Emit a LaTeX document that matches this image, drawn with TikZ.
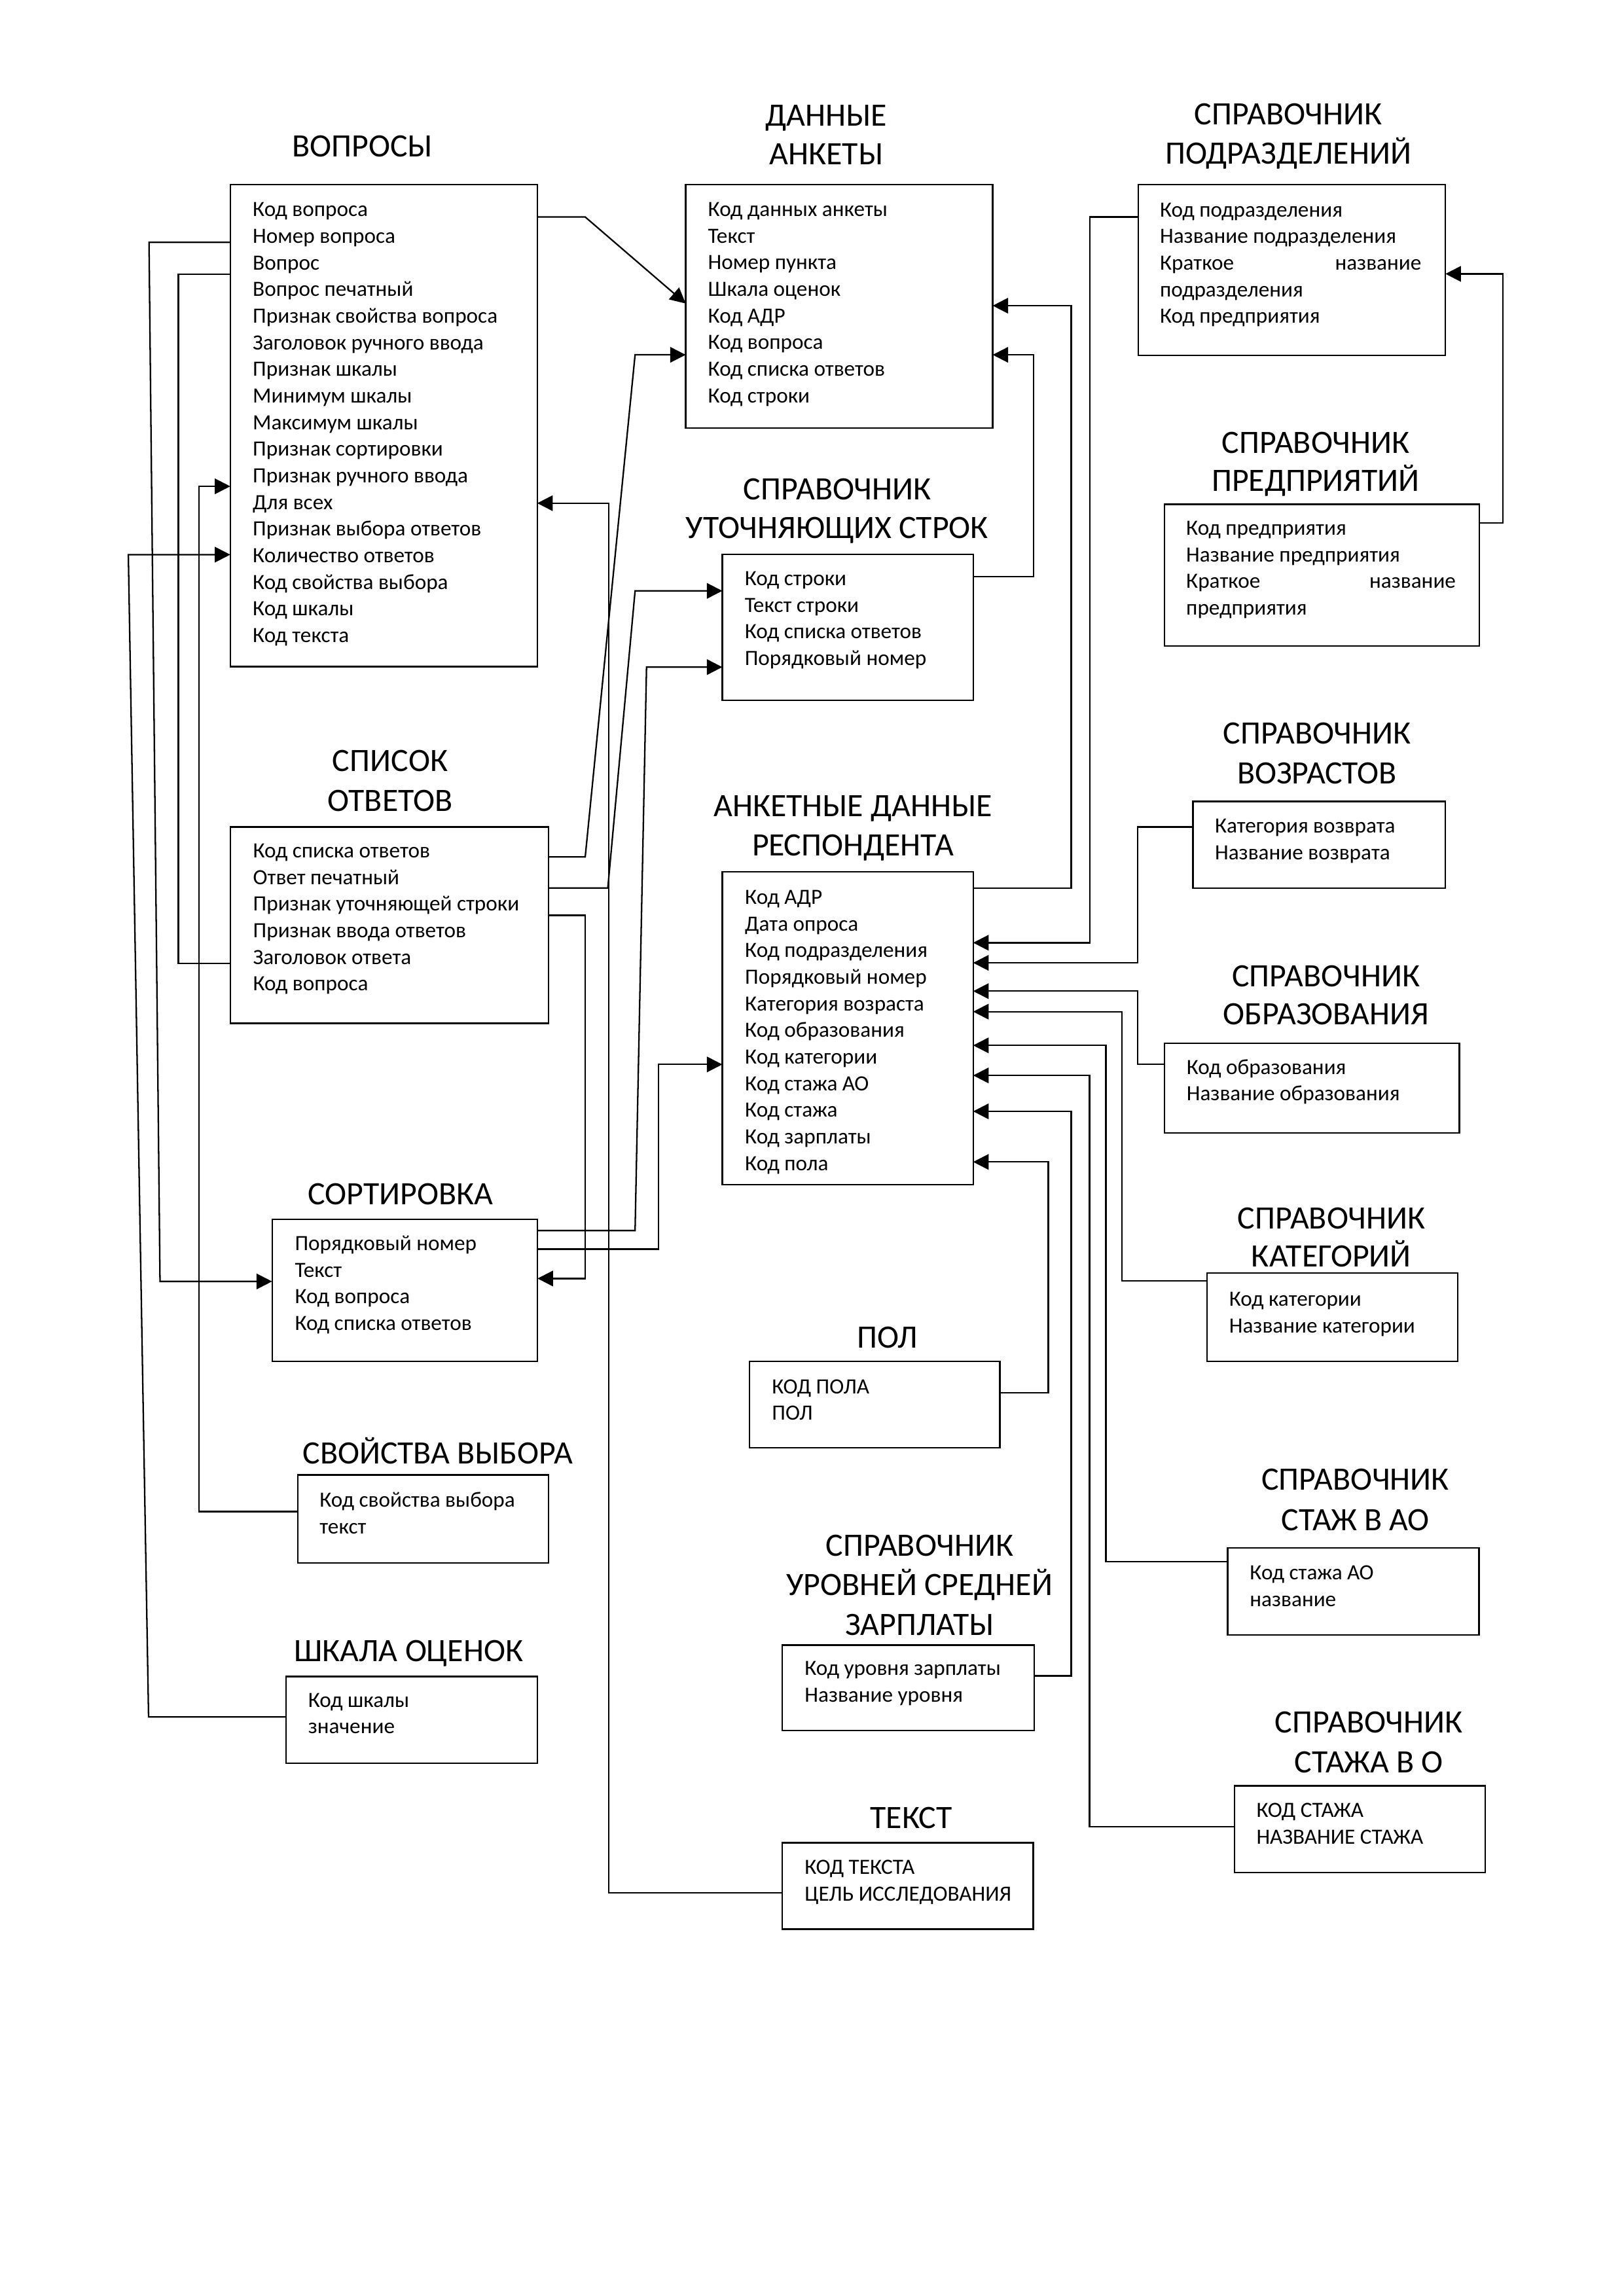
\documentclass[tikz,border=0pt]{standalone}
\usepackage{fontspec}
\setmainfont{Carlito}
\usetikzlibrary{arrows.meta,fit}
\newcommand\entfields[4]{%
  \foreach \ftext [count=\i] in {#4}{%
    \node[fld] (#1-\i) at (#2,{#3+(\i-1)*18.15}) {\ftext};}}
\begin{document}
\begin{tikzpicture}[x=0.189702mm, y=-0.189655mm,
  box/.style={draw, line width=0.55pt, inner sep=0pt, outer sep=0pt},
  ttl/.style={font=\fontsize{12}{14.4}\selectfont, anchor=base, inner sep=0pt},
  fld/.style={font=\fontsize{8}{9.8}\selectfont, anchor=base west, inner sep=0pt},
  conn/.style={line width=0.55pt},
  arr/.style={conn, -{Triangle[length=5.7pt,width=5.7pt]}}]
\fill[white] (0,0) rectangle (1107,1566);
\useasboundingbox (0,0) rectangle (1107,1566);

% ---------- boxes ----------
\node[box, fit={(157,126) (366.3,454.7)}] (vop) {};
\node[box, fit={(467.5,126) (676.8,292)}] (dan) {};
\node[box, fit={(776,126) (985.5,242.5)}] (pod) {};
\node[box, fit={(794,344) (1008.5,440.6)}] (pre) {};
\node[box, fit={(492.5,378) (663.7,477.7)}] (uto) {};
\node[box, fit={(157,564) (374,698)}] (spi) {};
\node[box, fit={(492.5,594.6) (663.5,808)}] (ank) {};
\node[box, fit={(813.4,546.6) (985.5,605.7)}] (voz) {};
\node[box, fit={(793.8,711.6) (995,772.8)}] (obr) {};
\node[box, fit={(185.5,831.8) (366.5,928.4)}] (sor) {};
\node[box, fit={(822.8,868.4) (994,928.4)}] (kat) {};
\node[box, fit={(511,928.4) (681.7,987.5)}] (pol) {};
\node[box, fit={(203,1006) (374,1066)}] (svo) {};
\node[box, fit={(837,1055.8) (1008.4,1115)}] (sao) {};
\node[box, fit={(533.3,1122) (705,1180.4)}] (zar) {};
\node[box, fit={(195,1143.4) (366.3,1202.6)}] (shk) {};
\node[box, fit={(841.6,1218) (1012.5,1277)}] (sto) {};
\node[box, fit={(533.3,1256.9) (704.5,1315.8)}] (tek) {};

% ---------- titles ----------
\node[ttl] (vop-t1) at (247,107) {ВОПРОСЫ};
\node[ttl] (dan-t1) at (563.4,85.8) {ДАННЫЕ};
\node[ttl] (dan-t2) at (563.4,112.2) {АНКЕТЫ};
\node[ttl] (pod-t1) at (878.3,85.1) {СПРАВОЧНИК};
\node[ttl] (pod-t2) at (878.3,112) {ПОДРАЗДЕЛЕНИЙ};
\node[ttl] (pre-t1) at (897,309.2) {СПРАВОЧНИК};
\node[ttl] (pre-t2) at (897,335) {ПРЕДПРИЯТИЙ};
\node[ttl] (uto-t1) at (570.8,340.7) {СПРАВОЧНИК};
\node[ttl] (uto-t2) at (570.8,367.2) {УТОЧНЯЮЩИХ СТРОК};
\node[ttl] (spi-t1) at (266,526.2) {СПИСОК};
\node[ttl] (spi-t2) at (266,553.2) {ОТВЕТОВ};
\node[ttl] (ank-t1) at (581.5,556.8) {АНКЕТНЫЕ ДАННЫЕ};
\node[ttl] (ank-t2) at (581.5,583.8) {РЕСПОНДЕНТА};
\node[ttl] (voz-t1) at (898,507.2) {СПРАВОЧНИК};
\node[ttl] (voz-t2) at (898,534.5) {ВОЗРАСТОВ};
\node[ttl] (obr-t1) at (904,673) {СПРАВОЧНИК};
\node[ttl] (obr-t2) at (904,699) {ОБРАЗОВАНИЯ};
\node[ttl] (sor-t1) at (273,821.7) {СОРТИРОВКА};
\node[ttl] (kat-t1) at (907.7,838.2) {СПРАВОЧНИК};
\node[ttl] (kat-t2) at (907.7,864) {КАТЕГОРИЙ};
\node[ttl] (pol-t1) at (605,919.2) {ПОЛ};
\node[ttl] (svo-t1) at (298.5,998.2) {СВОЙСТВА ВЫБОРА};
\node[ttl] (sao-t1) at (924,1016.4) {СПРАВОЧНИК};
\node[ttl] (sao-t2) at (924,1043.8) {СТАЖ В АО};
\node[ttl] (zar-t1) at (627,1061.2) {СПРАВОЧНИК};
\node[ttl] (zar-t2) at (627,1088.2) {УРОВНЕЙ СРЕДНЕЙ};
\node[ttl] (zar-t3) at (627,1115.2) {ЗАРПЛАТЫ};
\node[ttl] (shk-t1) at (278.6,1133) {ШКАЛА ОЦЕНОК};
\node[ttl] (sto-t1) at (933.3,1181.8) {СПРАВОЧНИК};
\node[ttl] (sto-t2) at (933.3,1208.9) {СТАЖА В О};
\node[ttl] (tek-t1) at (621.3,1247) {ТЕКСТ};

% ---------- fields ----------
\entfields{vop}{172}{147.7}{Код вопроса, Номер вопроса, Вопрос, Вопрос печатный,
  Признак свойства вопроса, Заголовок ручного ввода, Признак шкалы, Минимум шкалы,
  Максимум шкалы, Признак сортировки, Признак ручного ввода, Для всех,
  Признак выбора ответов, Количество ответов, Код свойства выбора, Код шкалы, Код текста}
\entfields{dan}{482.4}{147.6}{Код данных анкеты, Текст, Номер пункта, Шкала оценок,
  Код АДР, Код вопроса, Код списка ответов, Код строки}
\entfields{pod}{790.5}{147.8}{Код подразделения, Название подразделения, Краткое,
  подразделения, Код предприятия}
\node[fld, anchor=base east] (pod-3r) at (969.4,{147.8+2*18.15}) {название};
\entfields{pre}{808.4}{365}{Код предприятия, Название предприятия, Краткое, предприятия}
\node[fld, anchor=base east] (pre-3r) at (992.9,{365+2*18.15}) {название};
\entfields{uto}{507.4}{399.3}{Код строки, Текст строки, Код списка ответов, Порядковый номер}
\entfields{spi}{172.2}{585}{Код списка ответов, Ответ печатный, Признак уточняющей строки,
  Признак ввода ответов, Заголовок ответа, Код вопроса}
\entfields{ank}{507.6}{616.7}{Код АДР, Дата опроса, Код подразделения, Порядковый номер,
  Категория возраста, Код образования, Код категории, Код стажа АО, Код стажа,
  Код зарплаты, Код пола}
\entfields{voz}{828}{568.2}{Категория возврата, Название возврата}
\entfields{obr}{808.7}{732.6}{Код образования, Название образования}
\entfields{sor}{200.7}{852.8}{Порядковый номер, Текст, Код вопроса, Код списка ответов}
\entfields{kat}{837.7}{890.8}{Код категории, Название категории}
\entfields{pol}{526}{950.5}{КОД ПОЛА, ПОЛ}
\entfields{svo}{217.6}{1028}{Код свойства выбора, текст}
\entfields{sao}{851.8}{1077.6}{Код стажа АО, название}
\entfields{zar}{548.3}{1142.6}{Код уровня зарплаты, Название уровня}
\entfields{shk}{209.8}{1164.3}{Код шкалы, значение}
\entfields{sto}{856.3}{1239.5}{КОД СТАЖА, НАЗВАНИЕ СТАЖА}
\entfields{tek}{548.3}{1278.3}{КОД ТЕКСТА, ЦЕЛЬ ИССЛЕДОВАНИЯ}

% ---------- connectors ----------
\draw[arr] (vop.east |- 0,148) -- (399,148) -- (dan.west |- 0,207);
\draw[arr] (spi.east |- 0,584.5) -- (399,584.5) -- (433,242) -- (dan.west |- 0,242);
\draw[arr] (spi.east |- 0,605.7) -- (414.4,605.7) -- (433,403) -- (uto.west |- 0,403);
\draw[arr] (spi.east |- 0,624.3) -- (399,624.3) -- (399,872) -- (sor.east |- 0,872);
\draw[arr] (sor.east |- 0,839.3) -- (433,839.3) -- (440.8,455) -- (uto.west |- 0,455);
\draw[arr] (sor.east |- 0,852) -- (449,852) -- (449,726) -- (ank.west |- 0,726);
\draw[arr] (tek.west |- 0,1291) -- (414.9,1291) -- (414.9,343.2) -- (vop.east |- 0,343.2);
\draw[arr] (uto.east |- 0,393.4) -- (704.6,393.4) -- (704.6,242) -- (dan.east |- 0,242);
\draw[arr] (ank.east |- 0,605.7) -- (730.4,605.7) -- (730.4,208.5) -- (dan.east |- 0,208.5);
\draw[arr] (pod.west |- 0,148) -- (743,148) -- (743,643) -- (ank.east |- 0,643);
\draw[arr] (pre.east |- 0,356.7) -- (1024.6,356.7) -- (1024.6,186.8) -- (pod.east |- 0,186.8);
\draw[arr] (voz.west |- 0,564) -- (775.5,564) -- (775.5,656.7) -- (ank.east |- 0,656.7);
\draw[arr] (obr.west |- 0,726) -- (775.5,726) -- (775.5,676) -- (ank.east |- 0,676);
\draw[arr] (kat.west |- 0,873.7) -- (764.8,873.7) -- (764.8,690) -- (ank.east |- 0,690);
\draw[arr] (sao.west |- 0,1065) -- (754,1065) -- (754,713) -- (ank.east |- 0,713);
\draw[arr] (sto.west |- 0,1246) -- (742.9,1246) -- (742.9,733.5) -- (ank.east |- 0,733.5);
\draw[arr] (zar.east |- 0,1143) -- (730.4,1143) -- (730.4,758) -- (ank.east |- 0,758);
\draw[arr] (pol.east |- 0,950) -- (714.7,950) -- (714.7,792.5) -- (ank.east |- 0,792.5);
\draw[arr] (vop.west |- 0,165.3) -- (101.6,165.3) -- (109.1,874) -- (sor.west |- 0,874);
\draw[conn] (vop.west |- 0,187) -- (121.6,187) -- (121.6,657) -- (spi.west |- 0,657);
\draw[arr] (svo.west |- 0,1031) -- (135.7,1031) -- (135.7,331.7) -- (vop.west |- 0,331.7);
\draw[arr] (shk.west |- 0,1171) -- (101.3,1171) -- (87.5,378.3) -- (vop.west |- 0,378.3);
\end{tikzpicture}
\end{document}
